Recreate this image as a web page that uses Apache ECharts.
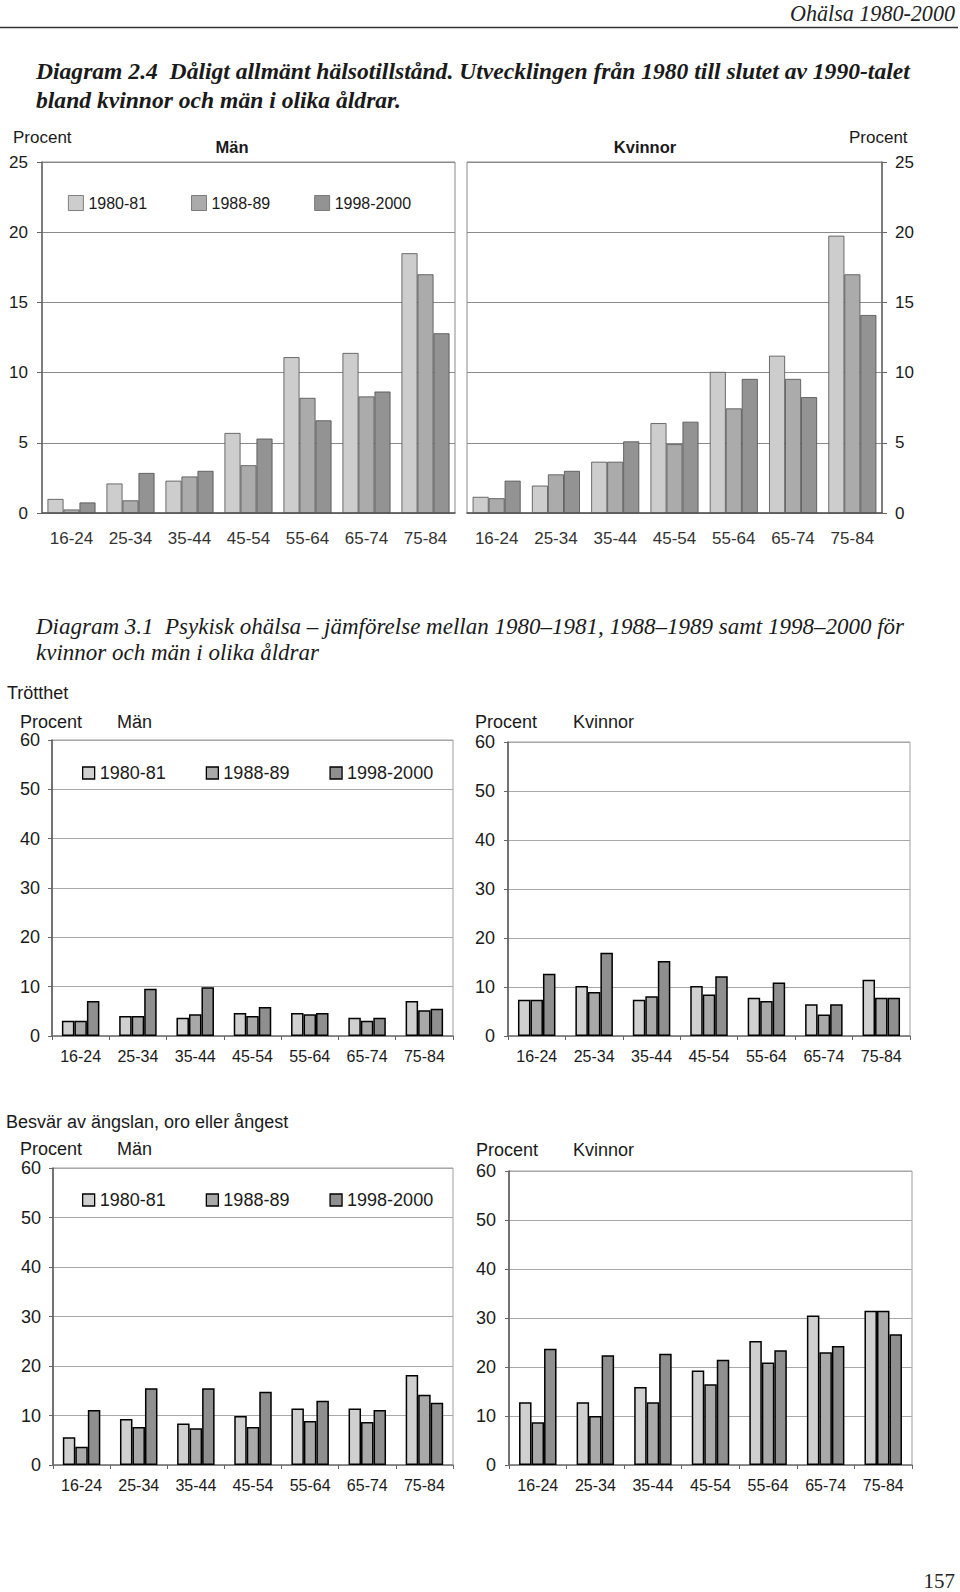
<!DOCTYPE html>
<html><head><meta charset="utf-8">
<script src="https://cdn.jsdelivr.net/npm/echarts@6/dist/echarts.min.js"></script>
<style>html,body{margin:0;padding:0;background:#fff}#c{width:960px;height:1592px}</style>
</head><body><div id="c"></div>
<script>
// ---------- data ----------
const ageGroups = ['16-24','25-34','35-44','45-54','55-64','65-74','75-84'];
const periods = ['1980-81','1988-89','1998-2000'];
// Diagram 2.4 – poor general health (%), rows = periods
const healthMen = [
  [1.0, 2.1, 2.3, 5.7, 11.1, 11.4, 18.5],
  [0.25, 0.9, 2.6, 3.4, 8.2, 8.3, 17.0],
  [0.75, 2.85, 3.0, 5.3, 6.6, 8.65, 12.8]
];
const healthWomen = [
  [1.15, 1.95, 3.65, 6.4, 10.05, 11.2, 19.75],
  [1.05, 2.75, 3.65, 4.9, 7.45, 9.55, 17.0],
  [2.3, 3.0, 5.1, 6.5, 9.55, 8.25, 14.1]
];
// Diagram 3.1 – Trötthet
const tiredMen = [
  [3.1, 4.05, 3.7, 4.65, 4.65, 3.7, 7.1],
  [3.1, 4.05, 4.4, 4.05, 4.4, 3.1, 5.2],
  [7.1, 9.6, 9.9, 5.9, 4.65, 3.7, 5.5]
];
const tiredWomen = [
  [7.4, 10.2, 7.4, 10.2, 7.8, 6.5, 11.5],
  [7.4, 9.0, 8.1, 8.45, 7.15, 4.4, 7.8],
  [12.7, 17.0, 15.3, 12.2, 10.9, 6.5, 7.8]
];
// Besvär av ängslan, oro eller ångest
const anxMen = [
  [5.6, 9.3, 8.4, 9.9, 11.4, 11.4, 18.2],
  [3.7, 7.7, 7.4, 7.7, 8.9, 8.7, 14.2],
  [11.1, 15.5, 15.5, 14.8, 13.0, 11.1, 12.6]
];
const anxWomen = [
  [12.8, 12.8, 15.9, 19.3, 25.3, 30.5, 31.5],
  [8.7, 10.0, 12.8, 16.5, 20.9, 23.0, 31.5],
  [23.7, 22.4, 22.7, 21.5, 23.4, 24.3, 26.7]
];
const healthAxis = {min: 0, max: 25, interval: 5};
const psychAxis = {min: 0, max: 60, interval: 10};

// ---------- styles ----------
const SANS = "'Liberation Sans', Arial, sans-serif";
const NARROW = "'Liberation Sans Narrow', 'Arial Narrow', 'Liberation Sans', sans-serif";
const SERIF = "'Liberation Serif', 'DejaVu Serif', serif";
const topColors = ['#cdcdcd', '#ababab', '#939393'];
const lowColors = ['#d0d0d0', '#a9a9a9', '#8f8f8f'];
const TXT = '#1a1a1a';

const ctx = document.createElement('canvas').getContext('2d');
function fit(text, style, weight, family, target) {
  ctx.font = style + ' ' + weight + ' 100px ' + family;
  return 100 * target / ctx.measureText(text).width;
}

const grids = [
  {left: 42, top: 162, width: 413, height: 351},
  {left: 467, top: 162, width: 415, height: 351},
  {left: 52, top: 740, width: 401, height: 296},
  {left: 508, top: 742, width: 402, height: 294},
  {left: 53, top: 1168, width: 400, height: 297},
  {left: 509, top: 1171, width: 403, height: 294}
];
const isTop = i => i < 2;
const gridOpt = grids.map((g, i) => Object.assign({show: true, backgroundColor: 'transparent',
  borderColor: isTop(i) ? '#8a8a8a' : '#a0a0a0', borderWidth: 1, containLabel: false}, g));

const xAxes = grids.map((g, i) => ({
  type: 'category', gridIndex: i, data: ageGroups,
  axisLine: {show: true, lineStyle: {color: isTop(i) ? '#555' : '#777', width: 1.5}},
  axisTick: {show: !isTop(i), length: 4, lineStyle: {color: '#666'}},
  axisLabel: isTop(i)
    ? {fontFamily: NARROW, fontSize: 17, color: '#333', margin: 17}
    : {fontFamily: SANS, fontSize: 16, color: TXT, margin: 12},
  splitLine: {show: false}
}));
const yAxes = grids.map((g, i) => Object.assign({
  type: 'value', gridIndex: i, position: i === 1 ? 'right' : 'left',
  axisLine: {show: true, lineStyle: {color: isTop(i) ? '#666' : '#555', width: 1.5}},
  axisTick: {show: true, length: isTop(i) ? 5 : 4, lineStyle: {color: '#666'}},
  axisLabel: isTop(i)
    ? {fontFamily: SANS, fontSize: 17, color: TXT, margin: i === 1 ? 13 : 14}
    : {fontFamily: SANS, fontSize: 18, color: TXT, margin: i === 3 || i === 5 ? 13 : 12},
  splitLine: {show: true, lineStyle: {color: isTop(i) ? '#8a8a8a' : '#a8a8a8', width: 1}}
}, isTop(i) ? healthAxis : psychAxis));

const datasets = [healthMen, healthWomen, tiredMen, tiredWomen, anxMen, anxWomen];
const series = [];
datasets.forEach((rows, gi) => {
  rows.forEach((vals, pi) => {
    series.push({
      type: 'bar', name: periods[pi], xAxisIndex: gi, yAxisIndex: gi, data: vals,
      barWidth: isTop(gi) ? 16 : 12.5, barGap: '0%',
      itemStyle: isTop(gi)
        ? {color: topColors[pi], borderColor: '#4d4d4d', borderWidth: 0.8}
        : {color: lowColors[pi], borderColor: '#000', borderWidth: 1.5},
      emphasis: {disabled: true}, silent: true, animation: false
    });
  });
});

function legendFor(left, top, size, gap, fontSize, top2) {
  return {
    left: left, top: top, orient: 'horizontal', icon: 'rect', selectedMode: false,
    itemWidth: size, itemHeight: size, itemGap: gap,
    textStyle: {fontFamily: SANS, fontSize: fontSize, color: TXT},
    data: periods.map((p, pi) => ({name: p,
      itemStyle: top2 ? {color: topColors[pi], borderColor: '#666', borderWidth: 0.8}
                      : {color: lowColors[pi], borderColor: '#000', borderWidth: 1.3}}))
  };
}
const legends = [
  legendFor(63, 190, 15, 44, 16, true),
  legendFor(77, 759, 12, 40, 18, false),
  legendFor(77, 1186, 12, 40, 18, false)
];

// ---------- texts ----------
function T(text, x, y, font, align, fill) {
  return {type: 'text', x: x, y: y, silent: true,
    style: {text: text, font: font, fill: fill || TXT, textAlign: align || 'left', align: align || 'left',
      textVerticalAlign: 'middle', verticalAlign: 'middle'}};
}
const head = 'Ohälsa 1980-2000';
const headSize = fit(head, 'italic', 'normal', SERIF, 165);
const t24a = 'Diagram 2.4  Dåligt allmänt hälsotillstånd. Utvecklingen från 1980 till slutet av 1990-talet';
const t24b = 'bland kvinnor och män i olika åldrar.';
const s24 = fit(t24a, 'italic', 'bold', SERIF, 874);
const t31a = 'Diagram 3.1  Psykisk ohälsa – jämförelse mellan 1980–1981, 1988–1989 samt 1998–2000 för';
const t31b = 'kvinnor och män i olika åldrar';
const s31 = fit(t31a, 'italic', 'normal', SERIF, 868);

const graphics = [
  T(head, 955, 13, 'italic ' + headSize.toFixed(2) + 'px ' + SERIF, 'right', '#222'),
  {type: 'line', silent: true, shape: {x1: 0, y1: 27.5, x2: 958, y2: 27.5}, style: {stroke: '#333', lineWidth: 1.5}},
  T(t24a, 36, 71, 'italic bold ' + s24.toFixed(2) + 'px ' + SERIF),
  T(t24b, 36, 100, 'italic bold ' + s24.toFixed(2) + 'px ' + SERIF),
  T('Procent', 13, 137, '17px ' + SANS),
  T('Män', 232, 147, 'bold 16.5px ' + SANS, 'center'),
  T('Kvinnor', 645, 147, 'bold 16.5px ' + SANS, 'center'),
  T('Procent', 849, 137, '17px ' + SANS),
  T(t31a, 36, 626, 'italic ' + s31.toFixed(2) + 'px ' + SERIF),
  T(t31b, 36, 652, 'italic ' + s31.toFixed(2) + 'px ' + SERIF),
  T('Trötthet', 7, 693, '18px ' + SANS),
  T('Procent', 20, 722, '18px ' + SANS),
  T('Män', 117, 722, '18px ' + SANS),
  T('Procent', 475, 722, '18px ' + SANS),
  T('Kvinnor', 573, 722, '18px ' + SANS),
  T('Besvär av ängslan, oro eller ångest', 6, 1122, '18px ' + SANS),
  T('Procent', 20, 1149, '18px ' + SANS),
  T('Män', 117, 1149, '18px ' + SANS),
  T('Procent', 476, 1150, '18px ' + SANS),
  T('Kvinnor', 573, 1150, '18px ' + SANS),
  T('157', 955, 1581, '21px ' + SERIF, 'right', '#222')
];

const chart = echarts.init(document.getElementById('c'), null, {renderer: 'svg', width: 960, height: 1592});
chart.setOption({
  animation: false,
  backgroundColor: '#fff',
  grid: gridOpt,
  xAxis: xAxes,
  yAxis: yAxes,
  legend: legends,
  series: series,
  graphic: graphics
});
</script>
</body></html>
